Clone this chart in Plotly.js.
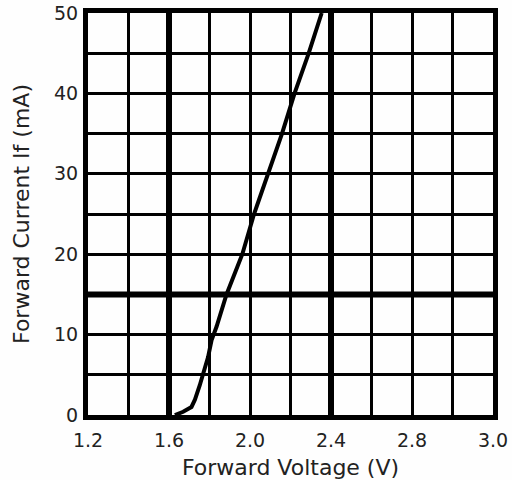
<!DOCTYPE html>
<html>
<head>
<meta charset="utf-8">
<script src="https://cdn.plot.ly/plotly-3.0.1.min.js"></script>
<style>html,body{margin:0;padding:0;background:#fff;}#chart{width:512px;height:480px;}</style>
</head>
<body>
<div id="chart"></div>
<script>
// Forward voltage (V, on the chart's grid scale) and forward current (mA)
const voltage = [1.629, 1.670, 1.711, 1.728, 1.752, 1.769, 1.793, 1.810, 1.835, 1.884, 1.914, 1.962, 2.020, 2.090, 2.158, 2.220, 2.290, 2.354];
const current = [0, 0.4, 1.0, 1.9, 3.7, 5.2, 7.2, 9.3, 11, 15, 17, 20, 25, 30, 35, 40, 45, 50];

// Tick labels as printed on the chart
const xTickVals = [1.2, 1.6, 2.0, 2.4, 2.8, 3.2];
const xTickText = ["1.2", "1.6", "2.0", "2.4", "2.8", "3.0"];
const yTickVals = [0, 10, 20, 30, 40, 50];
const yTickText = ["0", "10", "20", "30", "40", "50"];

// Emphasised grid lines
const majorX = [1.6, 2.4];
const majorY = [15];

const tickFont = {family: "DejaVu Sans", size: 19, color: "#222"};
const titleFont = {family: "DejaVu Sans", size: 22, color: "#222"};
const gridW = 3;
const majorW = 6;

const trace = {
  x: voltage, y: current, type: "scatter", mode: "lines",
  line: {color: "#000", width: 4}, hoverinfo: "skip", showlegend: false
};

const shapes = [];
majorX.forEach(v => shapes.push({type: "line", xref: "x", yref: "paper", x0: v, x1: v, y0: 0, y1: 1,
  line: {color: "#000", width: majorW}, layer: "below"}));
majorY.forEach(v => shapes.push({type: "line", xref: "paper", yref: "y", x0: 0, x1: 1, y0: v, y1: v,
  line: {color: "#000", width: majorW}, layer: "below"}));

const layout = {
  width: 512, height: 480,
  margin: {l: 88, r: 19, t: 13, b: 65},
  paper_bgcolor: "#fefefe", plot_bgcolor: "#fefefe",
  showlegend: false,
  shapes: shapes,
  xaxis: {
    range: [1.2, 3.2], tickmode: "array", tickvals: xTickVals, ticktext: xTickText,
    showgrid: true, gridcolor: "#000", gridwidth: gridW, zeroline: false,
    showline: true, linecolor: "#000", linewidth: 5, mirror: true,
    ticks: "", tickfont: tickFont, ticklabelstandoff: 4,
    minor: {tick0: 1.2, dtick: 0.2, showgrid: true, gridcolor: "#000", gridwidth: gridW, ticks: ""},
    title: {text: "Forward Voltage (V)", font: titleFont, standoff: 11},
    fixedrange: true
  },
  yaxis: {
    range: [0, 50], tickmode: "array", tickvals: yTickVals, ticktext: yTickText,
    showgrid: true, gridcolor: "#000", gridwidth: gridW, zeroline: false,
    showline: true, linecolor: "#000", linewidth: 5, mirror: true,
    ticks: "", tickfont: tickFont, ticklabelstandoff: 1,
    minor: {tick0: 0, dtick: 5, showgrid: true, gridcolor: "#000", gridwidth: gridW, ticks: ""},
    title: {text: "Forward Current If (mA)", font: titleFont, standoff: 20},
    fixedrange: true
  }
};

Plotly.newPlot("chart", [trace], layout, {displayModeBar: false, staticPlot: true});
</script>
</body>
</html>
